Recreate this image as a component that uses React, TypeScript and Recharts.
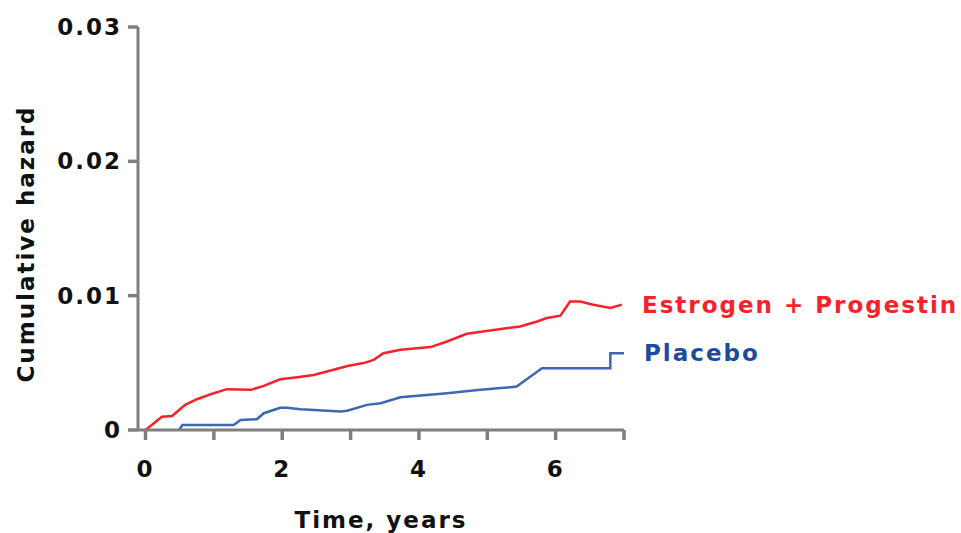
import { LineChart, Line, XAxis, YAxis, LabelList } from 'recharts';

// cumulative hazard curves
const ephTime = [0, 0.24, 0.39, 0.58, 0.76, 1.0, 1.19, 1.54, 1.73, 1.97, 2.22, 2.46, 2.75, 2.97, 3.19, 3.34, 3.48, 3.73, 4.17, 4.41, 4.7, 5.04, 5.48, 5.73, 5.87, 6.07, 6.21, 6.36, 6.55, 6.8, 6.97];
const ephHazard = [0, 0.00099, 0.00104, 0.00187, 0.00231, 0.00274, 0.00304, 0.00299, 0.00328, 0.00378, 0.00393, 0.0041, 0.00448, 0.00478, 0.00498, 0.00522, 0.00572, 0.00597, 0.00617, 0.00659, 0.00716, 0.00741, 0.00771, 0.00808, 0.00834, 0.00851, 0.00957, 0.00957, 0.00933, 0.00908, 0.00933];

const placeboTime = [0.49, 0.54, 1.29, 1.39, 1.63, 1.73, 1.97, 2.07, 2.27, 2.85, 2.95, 3.24, 3.44, 3.73, 4.41, 4.9, 5.43, 5.8, 6.8, 6.8, 7.0];
const placeboHazard = [0, 0.00037, 0.00037, 0.00075, 0.0008, 0.00125, 0.00166, 0.00166, 0.00154, 0.00137, 0.00144, 0.00187, 0.00199, 0.00244, 0.00274, 0.00299, 0.00323, 0.0046, 0.0046, 0.00572, 0.00572];

const seriesNames = ['Estrogen + Progestin', 'Placebo'];
const xTicks = [0, 1, 2, 3, 4, 5, 6, 7];
const xTickLabels = ['0', '', '2', '', '4', '', '6', ''];
const yTicks = [0, 0.01, 0.02, 0.03];
const yTickLabels = ['0', '0.01', '0.02', '0.03'];

const RED = '#f5222a';
const BLUE_LINE = '#3f66b3';
const BLUE_TEXT = '#1c4b9e';
const AXIS = '#7f7f7f';
const FONT = '"DejaVu Sans", Verdana, sans-serif';

function toRows(times: number[], values: number[], name: string) {
  return times.map((t, i) => ({
    t,
    v: values[i],
    name: i === times.length - 1 ? name : undefined,
  }));
}

const ephData = toRows(ephTime, ephHazard, seriesNames[0]);
const placeboData = toRows(placeboTime, placeboHazard, seriesNames[1]);

function endLabel(color: string) {
  return (props: any) => {
    if (!props.value) return null;
    const vb = props.viewBox || {};
    const x = props.x ?? vb.x;
    const y = props.y ?? vb.y;
    return (
      <text
        x={x + 20}
        y={y}
        dy="0.36em"
        fill={color}
        fontFamily={FONT}
        fontWeight="bold"
        fontSize={23}
        letterSpacing={2}
      >
        {props.value}
      </text>
    );
  };
}

function YTitle() {
  return (
    <text
      x={26}
      y={244}
      transform="rotate(-90, 26, 244)"
      textAnchor="middle"
      dy="0.36em"
      fill="#111"
      fontFamily={FONT}
      fontWeight="bold"
      fontSize={23}
      letterSpacing={2}
    >
      Cumulative hazard
    </text>
  );
}

const tickStyle = { fill: '#111', fontFamily: FONT, fontWeight: 'bold', fontSize: 23, letterSpacing: 2 };

export default function App() {
  return (
    <div style={{ position: 'absolute', left: 0, top: 0, width: 961, height: 533, background: '#fff' }}>
      <LineChart width={961} height={533} margin={{ top: 27, right: 337, bottom: 3, left: 0 }}>
        <XAxis
          type="number"
          dataKey="t"
          domain={[-0.11, 7]}
          ticks={xTicks}
          tickFormatter={(v: number) => xTickLabels[xTicks.indexOf(v)] ?? ''}
          height={100}
          tickSize={10}
          tickMargin={21}
          axisLine={{ stroke: AXIS, strokeWidth: 3 }}
          tickLine={{ stroke: AXIS, strokeWidth: 3.5 }}
          tick={tickStyle}
          allowDataOverflow
          label={{
            value: 'Time, years',
            position: 'insideBottom',
            offset: 2,
            style: { fill: '#111', fontFamily: FONT, fontWeight: 'bold', fontSize: 23, letterSpacing: 2 },
          }}
        />
        <YAxis
          type="number"
          domain={[0, 0.03]}
          ticks={yTicks}
          tickFormatter={(v: number) => yTickLabels[yTicks.indexOf(v)] ?? ''}
          width={138}
          tickSize={10}
          tickMargin={6}
          axisLine={{ stroke: AXIS, strokeWidth: 3 }}
          tickLine={{ stroke: AXIS, strokeWidth: 3.5 }}
          tick={tickStyle}
          label={{ content: () => <YTitle /> }}
        />
        <Line
          data={ephData}
          dataKey="v"
          type="linear"
          stroke={RED}
          strokeWidth={2.5}
          dot={false}
          isAnimationActive={false}
        >
          <LabelList dataKey="name" content={endLabel(RED)} />
        </Line>
        <Line
          data={placeboData}
          dataKey="v"
          type="linear"
          stroke={BLUE_LINE}
          strokeWidth={2.5}
          dot={false}
          isAnimationActive={false}
        >
          <LabelList dataKey="name" content={endLabel(BLUE_TEXT)} />
        </Line>
      </LineChart>
    </div>
  );
}
